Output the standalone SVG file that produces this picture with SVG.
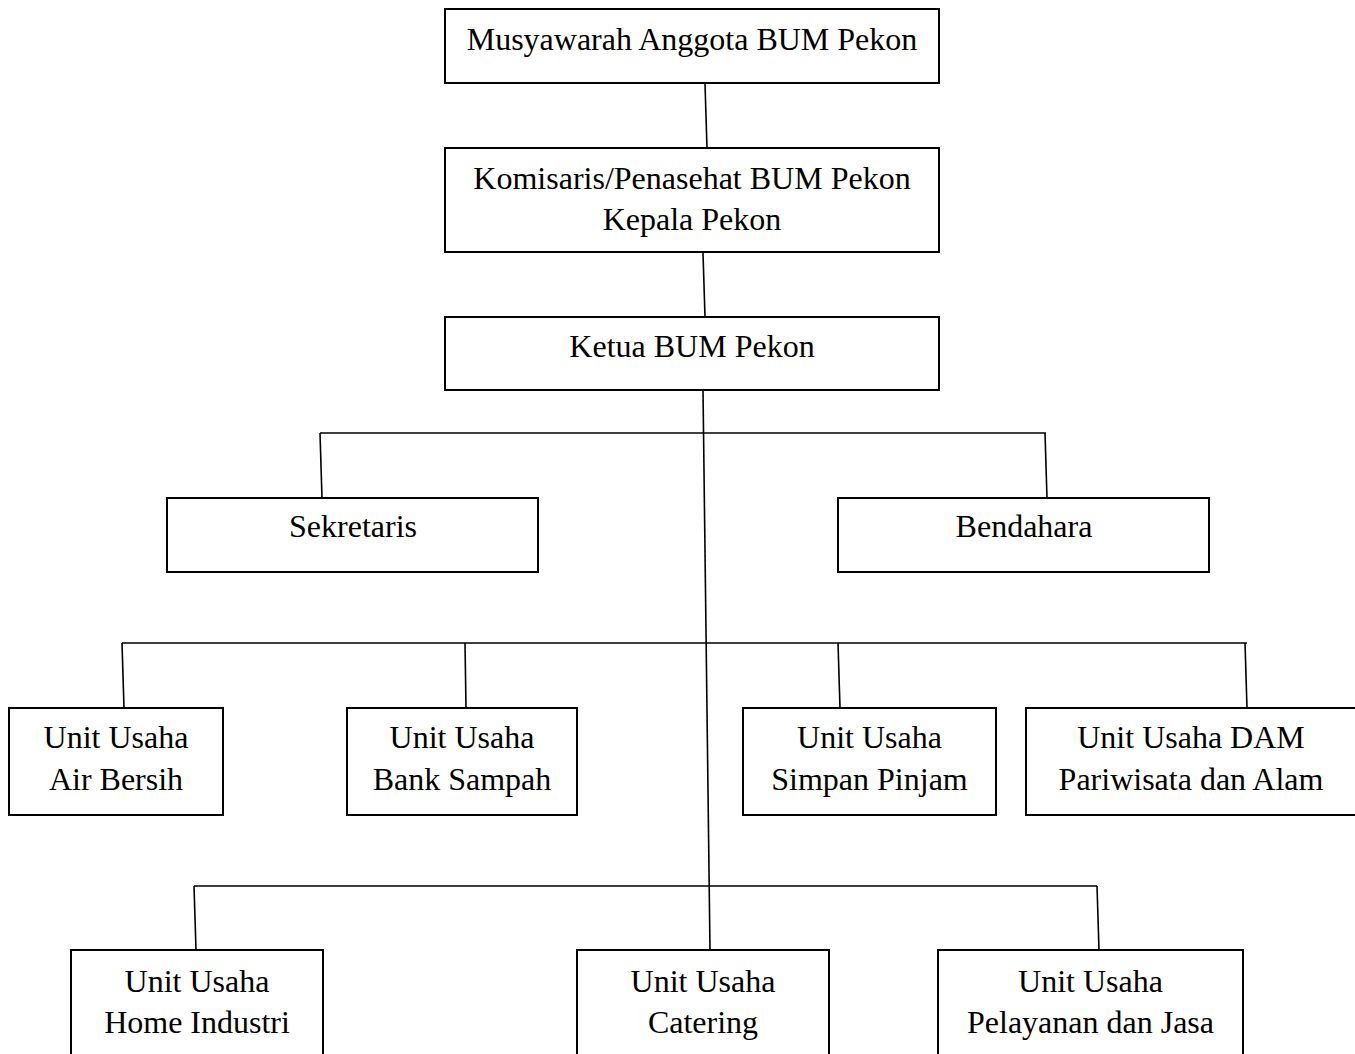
<svg xmlns="http://www.w3.org/2000/svg" width="1355" height="1054" viewBox="0 0 1355 1054">
<style>
.box{fill:#fff;stroke:#000;stroke-width:2}
.ln{stroke:#000;stroke-width:1.6;fill:none}
text{font-family:"Liberation Serif","Times New Roman",serif;font-size:32px;fill:#000;text-anchor:middle}
</style>
<rect width="1355" height="1054" fill="#fff"/>
<g id="connectors">
<line class="ln" x1="705" y1="84" x2="707" y2="148"/>
<line class="ln" x1="703" y1="253" x2="705" y2="317"/>
<line class="ln" x1="703" y1="391" x2="710" y2="950"/>
<line class="ln" x1="320" y1="433" x2="1046" y2="433"/>
<line class="ln" x1="320" y1="433" x2="322" y2="498"/>
<line class="ln" x1="1045" y1="433" x2="1047" y2="498"/>
<line class="ln" x1="122" y1="643" x2="1247" y2="643"/>
<line class="ln" x1="122" y1="643" x2="124" y2="708"/>
<line class="ln" x1="465" y1="643" x2="466" y2="708"/>
<line class="ln" x1="838" y1="643" x2="840" y2="708"/>
<line class="ln" x1="1245" y1="643" x2="1247" y2="708"/>
<line class="ln" x1="194" y1="886" x2="1097" y2="886"/>
<line class="ln" x1="194" y1="886" x2="196" y2="950"/>
<line class="ln" x1="1097" y1="886" x2="1099" y2="950"/>
</g>
<g id="musyawarah"><rect class="box" x="445" y="9" width="494" height="74"/><text x="692" y="50">Musyawarah Anggota BUM Pekon</text></g>
<g id="komisaris"><rect class="box" x="445" y="148" width="494" height="104"/><text x="692" y="189">Komisaris/Penasehat BUM Pekon</text><text x="692" y="230">Kepala Pekon</text></g>
<g id="ketua"><rect class="box" x="445" y="317" width="494" height="73"/><text x="692" y="357">Ketua BUM Pekon</text></g>
<g id="sekretaris"><rect class="box" x="167" y="498" width="371" height="74"/><text x="353" y="537">Sekretaris</text></g>
<g id="bendahara"><rect class="box" x="838" y="498" width="371" height="74"/><text x="1024" y="537">Bendahara</text></g>
<g id="air-bersih"><rect class="box" x="9" y="708" width="214" height="107"/><text x="116" y="748">Unit Usaha</text><text x="116" y="790">Air Bersih</text></g>
<g id="bank-sampah"><rect class="box" x="347" y="708" width="230" height="107"/><text x="462" y="748">Unit Usaha</text><text x="462" y="790">Bank Sampah</text></g>
<g id="simpan-pinjam"><rect class="box" x="743" y="708" width="253" height="107"/><text x="869.5" y="748">Unit Usaha</text><text x="869.5" y="790">Simpan Pinjam</text></g>
<g id="dam"><rect class="box" x="1026" y="708" width="330" height="107"/><text x="1191" y="748">Unit Usaha DAM</text><text x="1191" y="790">Pariwisata dan Alam</text></g>
<g id="home-industri"><rect class="box" x="71" y="950" width="252" height="115"/><text x="197" y="992">Unit Usaha</text><text x="197" y="1033">Home Industri</text></g>
<g id="catering"><rect class="box" x="577" y="950" width="252" height="115"/><text x="703" y="992">Unit Usaha</text><text x="703" y="1033">Catering</text></g>
<g id="pelayanan"><rect class="box" x="938" y="950" width="305" height="115"/><text x="1090.5" y="992">Unit Usaha</text><text x="1090.5" y="1033">Pelayanan dan Jasa</text></g>
</svg>
